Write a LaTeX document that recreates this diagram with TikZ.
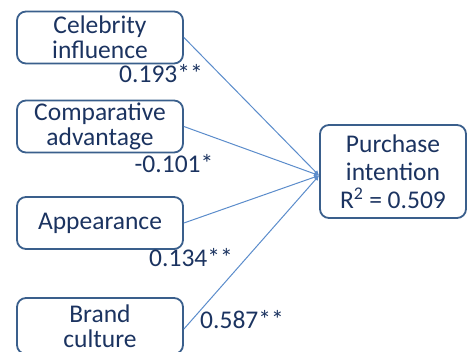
\documentclass[tikz,border=0pt]{standalone}
\usepackage{fontspec}
\setmainfont{Carlito}
\usetikzlibrary{arrows.meta}
\definecolor{boxline}{HTML}{3A5F8C}
\definecolor{ink}{HTML}{1B3360}
\definecolor{path}{HTML}{5B8CCB}

\begin{document}
\begin{tikzpicture}[x=1pt,y=-1pt,
  font=\fontsize{25.5}{25}\selectfont,
  factor/.style={draw=boxline,line width=1.8pt,rounded corners=9pt,text=ink,
    align=center,minimum width=166pt,minimum height=52pt,inner sep=0pt},
  coef/.style={text=ink,anchor=base,inner sep=0pt},
  link/.style={draw=path,line width=1pt,-{Latex[length=5pt,width=5pt]}}]

  \useasboundingbox (0,0) rectangle (468,352);

  \node[factor] (CI) at (100,37.5) {Celebrity\\influence};
  \node[factor] (CA) at (100,126.5) {Comparative\\advantage};
  \node[factor] (AP) at (100,223) {Appearance};
  \node[factor,minimum height=56pt] (BC) at (100,326) {Brand\\culture};
  \node[factor,minimum width=146pt,minimum height=93pt,
    font=\fontsize{25.5}{28}\selectfont] (PI) at (393,171.5)
    {Purchase\\intention\\R\textsuperscript{2} = 0.509};

  \node[coef] (c1) at (161,83) {0.193**};
  \node[coef] (c2) at (174,173) {-0.101*};
  \node[coef] (c3) at (191,267) {0.134**};
  \node[coef] (c4) at (242,328) {0.587**};

  \draw[link] (CI.east) -- ([yshift=-4pt]PI.west);
  \draw[link] (CA.east) -- ([yshift=-4pt]PI.west);
  \draw[link] (AP.east) -- ([yshift=-4pt]PI.west);
  \draw[link] ([yshift=-3pt]BC.east) -- ([yshift=-4pt]PI.west);

\end{tikzpicture}
\end{document}
